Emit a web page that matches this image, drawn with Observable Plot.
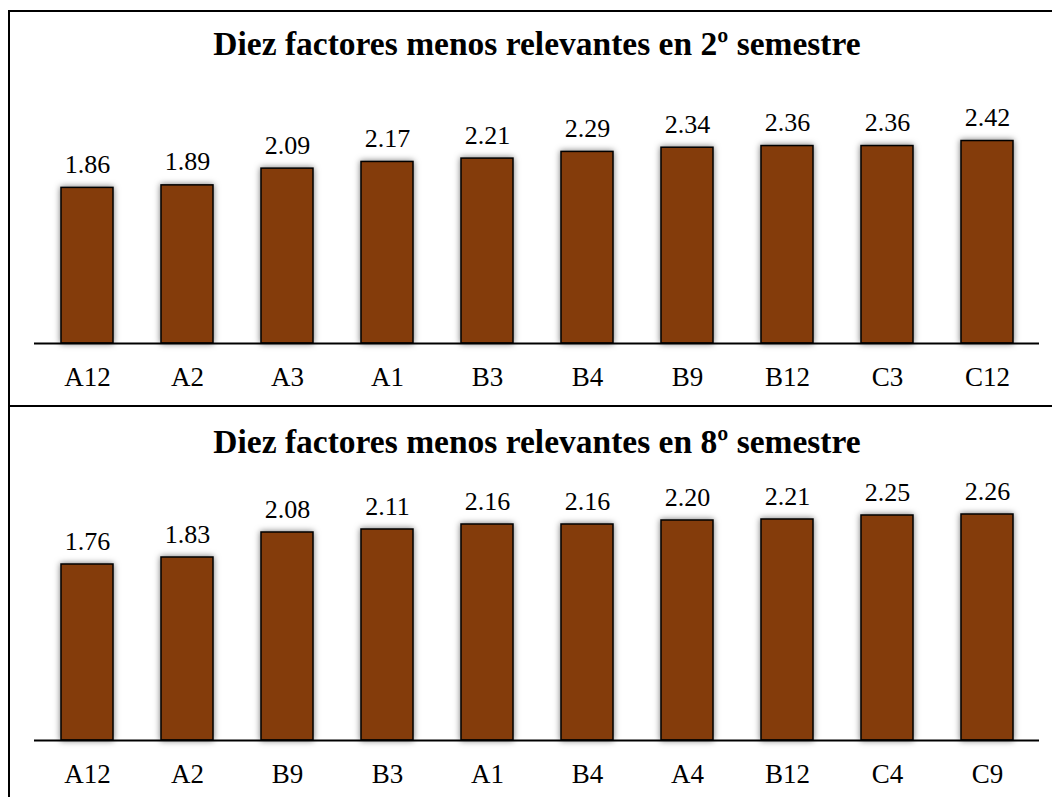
<!DOCTYPE html>
<html>
<head>
<meta charset="utf-8">
<script src="https://cdn.jsdelivr.net/npm/d3@7"></script>
<script src="https://cdn.jsdelivr.net/npm/@observablehq/plot@0.6"></script>
<style>
  html, body { margin: 0; padding: 0; background: #fff; overflow: hidden; }
  #wrap { position: relative; width: 1052px; height: 797px; overflow: hidden; font-family: "Liberation Serif", "Times New Roman", serif; }
  .border-top { position: absolute; left: 8px; top: 10px; width: 1100px; height: 2px; background: #000; }
  .border-left { position: absolute; left: 8px; top: 10px; width: 2px; height: 800px; background: #000; }
  .divider { position: absolute; left: 8px; top: 405px; width: 1100px; height: 2px; background: #000; }
  .title { position: absolute; left: 0; width: 1074px; text-align: center; font-weight: bold; font-size: 33.5px; line-height: 33.5px; color: #000; white-space: nowrap; }
  .panel { position: absolute; left: 0; }
</style>
</head>
<body>
<div id="wrap">
  <div class="border-top"></div>
  <div class="border-left"></div>
  <div class="divider"></div>
  <div class="title" style="top:27px">Diez factores menos relevantes en 2º semestre</div>
  <div class="title" style="top:425px">Diez factores menos relevantes en 8º semestre</div>
  <div class="panel" id="p1" style="top:12px"></div>
  <div class="panel" id="p2" style="top:407px"></div>
</div>
<script>
const cats2 = ["A12","A2","A3","A1","B3","B4","B9","B12","C3","C12"];
const vals2 = [1.86,1.89,2.09,2.17,2.21,2.29,2.34,2.36,2.36,2.42];
const cats8 = ["A12","A2","B9","B3","A1","B4","A4","B12","C4","C9"];
const vals8 = [1.76,1.83,2.08,2.11,2.16,2.16,2.20,2.21,2.25,2.26];

const barColor = "#843C0B";

function panel(cats, vals, opts) {
  const data = cats.map((c, i) => ({cat: c, val: vals[i]}));
  const svg = Plot.plot({
    width: 1052,
    height: opts.height,
    marginLeft: 34,
    marginRight: 13,
    marginTop: opts.marginTop,
    marginBottom: opts.marginBottom,
    style: {fontFamily: "'Liberation Serif', 'Times New Roman', serif", fontSize: "26px", color: "#000", background: "transparent", overflow: "visible"},
    x: {domain: cats, paddingInner: 0.48, paddingOuter: 0.24, label: null},
    y: {domain: opts.ydomain, axis: null},
    marks: [
      Plot.barY(data, {x: "cat", y: "val", fill: barColor, stroke: "#000", strokeWidth: 1.5}),
      Plot.ruleY([0], {stroke: "#000", strokeWidth: 2}),
      Plot.text(data, {x: "cat", y: "val", text: d => d.val.toFixed(2), lineAnchor: "bottom", dy: -15, fontSize: 26, fill: "#000"}),
      Plot.axisX({tickSize: 0, tickPadding: 23, fontSize: 27, label: null, fill: "#000"})
    ]
  });
  d3.select(svg).selectAll("g[aria-label='bar'] rect").style("filter", "drop-shadow(0px 0px 3px rgba(0,0,0,0.55))");
  return svg;
}

document.getElementById("p1").appendChild(panel(cats2, vals2, {height: 395, marginTop: 80, marginBottom: 64, ydomain: [0, 3]}));
document.getElementById("p2").appendChild(panel(cats8, vals8, {height: 390, marginTop: 83, marginBottom: 57, ydomain: [0, 2.5]}));
</script>
</body>
</html>
